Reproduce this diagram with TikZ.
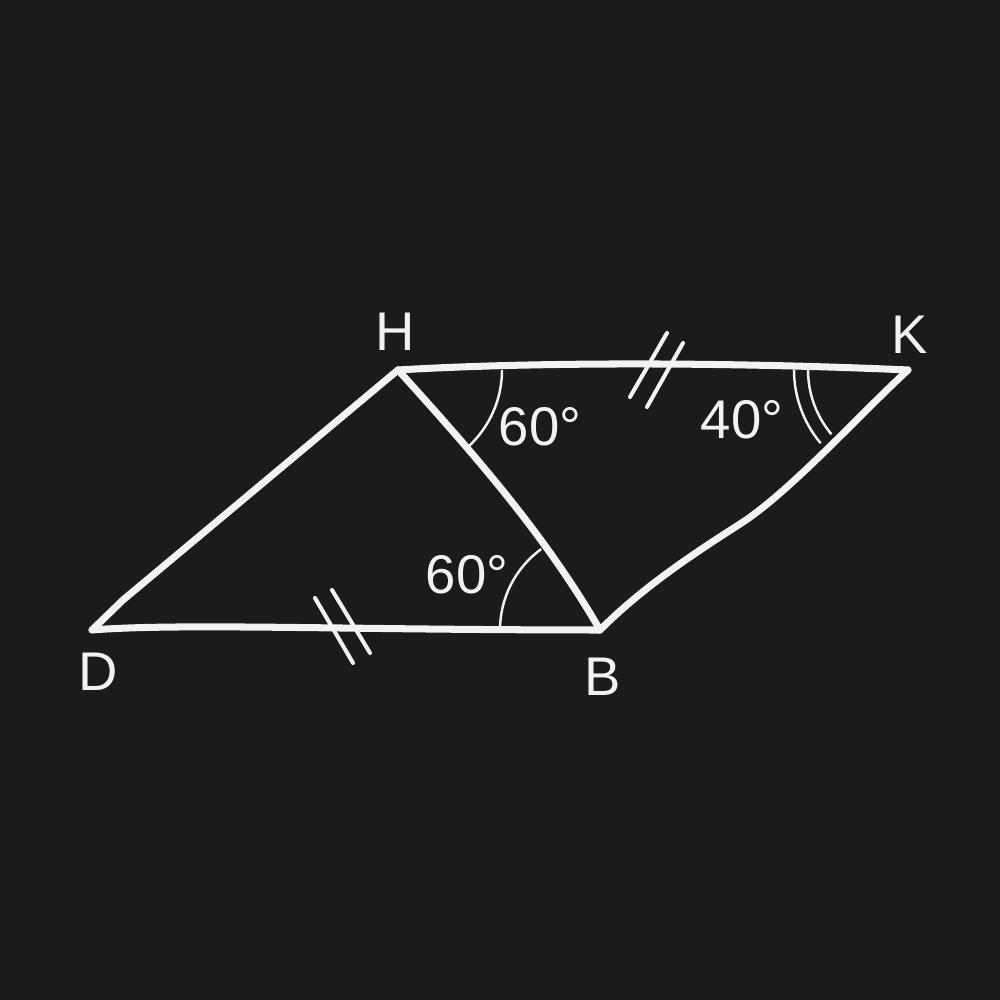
\documentclass[tikz,border=0pt]{standalone}
\usepackage{fontspec}
\setmainfont{Liberation Sans}
\definecolor{bg}{HTML}{1B1B1B}
\definecolor{ink}{HTML}{F2F2F2}
\begin{document}
\begin{tikzpicture}[
  edge/.style={draw=ink, line width=2pt, line cap=round, line join=round},
  tick/.style={draw=ink, line width=1.15pt, line cap=round},
  anglearc/.style={draw=ink, line width=0.7pt},
  lbl/.style={text=ink, inner sep=0pt, font=\fontsize{15.5}{18}\selectfont}
]
\fill[bg] (0,0) rectangle (10,10);
\useasboundingbox (0,0) rectangle (10,10);

\coordinate (H) at (3.98,6.30);
\coordinate (K) at (9.08,6.30);
\coordinate (D) at (0.92,3.70);
\coordinate (B) at (6.00,3.70);

% edges
\draw[edge] (D) -- (1.23,4.00) -- (H);
\draw[edge] (H) .. controls (5.5,6.39) and (7.5,6.37) .. (K);
\draw[edge] (D) .. controls (1.8,3.77) and (3.5,3.70) .. (B);
\draw[edge] (H) .. controls (4.75,5.45) and (5.45,4.65) .. (B);
\draw[edge] (B) .. controls (6.42,4.12) and (6.9,4.44) .. (7.4,4.76)
  .. controls (7.9,5.08) and (8.6,5.86) .. (K);

% angle arcs
\draw[anglearc] ([shift={(0:1.04)}]H) arc[start angle=0, end angle=-47, radius=1.04];
\draw[anglearc] ([shift={(180:1.0)}]B) arc[start angle=180, end angle=126, radius=1.0];
\draw[anglearc] ([shift={(180:1.14)}]K) arc[start angle=180, end angle=220, radius=1.14];
\draw[anglearc] ([shift={(180:1.00)}]K) arc[start angle=180, end angle=220, radius=1.00];

% equal-length ticks
\draw[tick] (3.15,4.02) -- (3.53,3.37);
\draw[tick] (3.32,4.10) -- (3.70,3.47);
\draw[tick] (6.67,6.67) -- (6.30,6.03);
\draw[tick] (6.83,6.57) -- (6.47,5.93);

% labels
\node[lbl] (lH) at (3.95,6.68) {H};
\node[lbl] (lK) at (9.10,6.65) {K};
\node[lbl] (lD) at (0.98,3.28) {D};
\node[lbl] (lB) at (6.03,3.23) {B};
\node[lbl] (aH) at (5.40,5.73) {60°};
\node[lbl] (aK) at (7.42,5.80) {40°};
\node[lbl] (aB) at (4.67,4.25) {60°};
\end{tikzpicture}
\end{document}
